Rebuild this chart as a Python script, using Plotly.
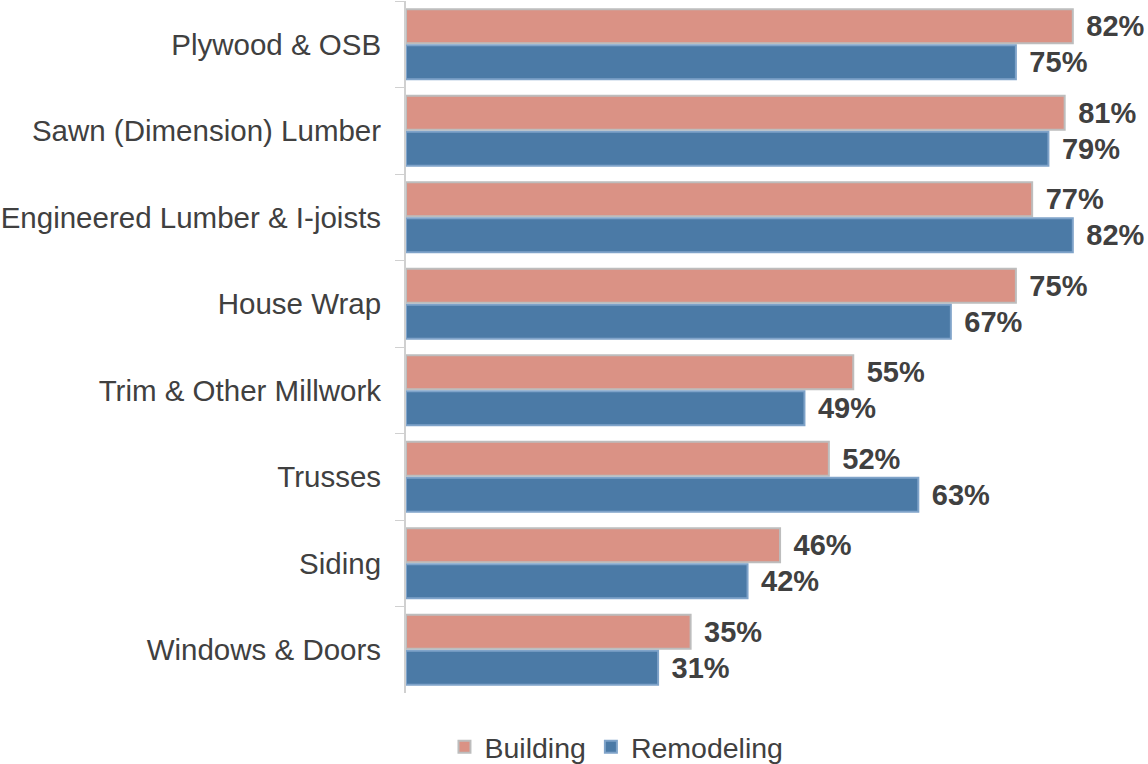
import plotly.graph_objects as go

categories = ["Plywood & OSB", "Sawn (Dimension) Lumber", "Engineered Lumber & I-joists",
              "House Wrap", "Trim & Other Millwork", "Trusses", "Siding", "Windows & Doors"]
building = [82, 81, 77, 75, 55, 52, 46, 35]
remodeling = [75, 79, 82, 67, 49, 63, 42, 31]

FONT = "Arial, Liberation Sans, sans-serif"

fig = go.Figure()
fig.add_trace(go.Bar(
    y=categories, x=building, orientation="h", name="Building",
    marker=dict(color="#DA9285", line=dict(color="#bdbdbd", width=2)),
    text=[f"{v}%" for v in building], textposition="outside",
    textfont=dict(family=FONT, size=29, color="#404040"),
    cliponaxis=False,
))
fig.add_trace(go.Bar(
    y=categories, x=remodeling, orientation="h", name="Remodeling",
    marker=dict(color="#4B7AA6", line=dict(color="#7fa3c9", width=2)),
    text=[f"{v}%" for v in remodeling], textposition="outside",
    textfont=dict(family=FONT, size=29, color="#404040"),
    cliponaxis=False,
))

fig.update_traces(texttemplate=" \u200a<b>%{text}</b>")

fig.update_layout(
    width=1148, height=764,
    margin=dict(l=406, r=2, t=1, b=71),
    paper_bgcolor="white", plot_bgcolor="white",
    barmode="group", bargap=0.17, bargroupgap=0.05,
    font=dict(family=FONT, color="#404040"),
    xaxis=dict(range=[0, 91], visible=False, showgrid=False, zeroline=False, automargin=False),
    yaxis=dict(
        autorange="reversed", tickson="boundaries", ticks="outside", ticklen=9,
        tickcolor="#d0d0d0", showline=True, linecolor="#d0d0d0", linewidth=2,
        tickfont=dict(size=29.5, color="#404040"), ticklabelstandoff=17,
        automargin=False,
    ),
    legend=dict(
        orientation="h", xref="container", yref="container",
        x=0.537, xanchor="center", y=0.022, yanchor="middle",
        font=dict(size=28.5, color="#404040"), itemwidth=30,
    ),
    showlegend=True,
)

fig.write_html("out.html", config={"displayModeBar": False},
               post_script="document.body.style.margin='0';document.body.style.overflow='hidden';")
